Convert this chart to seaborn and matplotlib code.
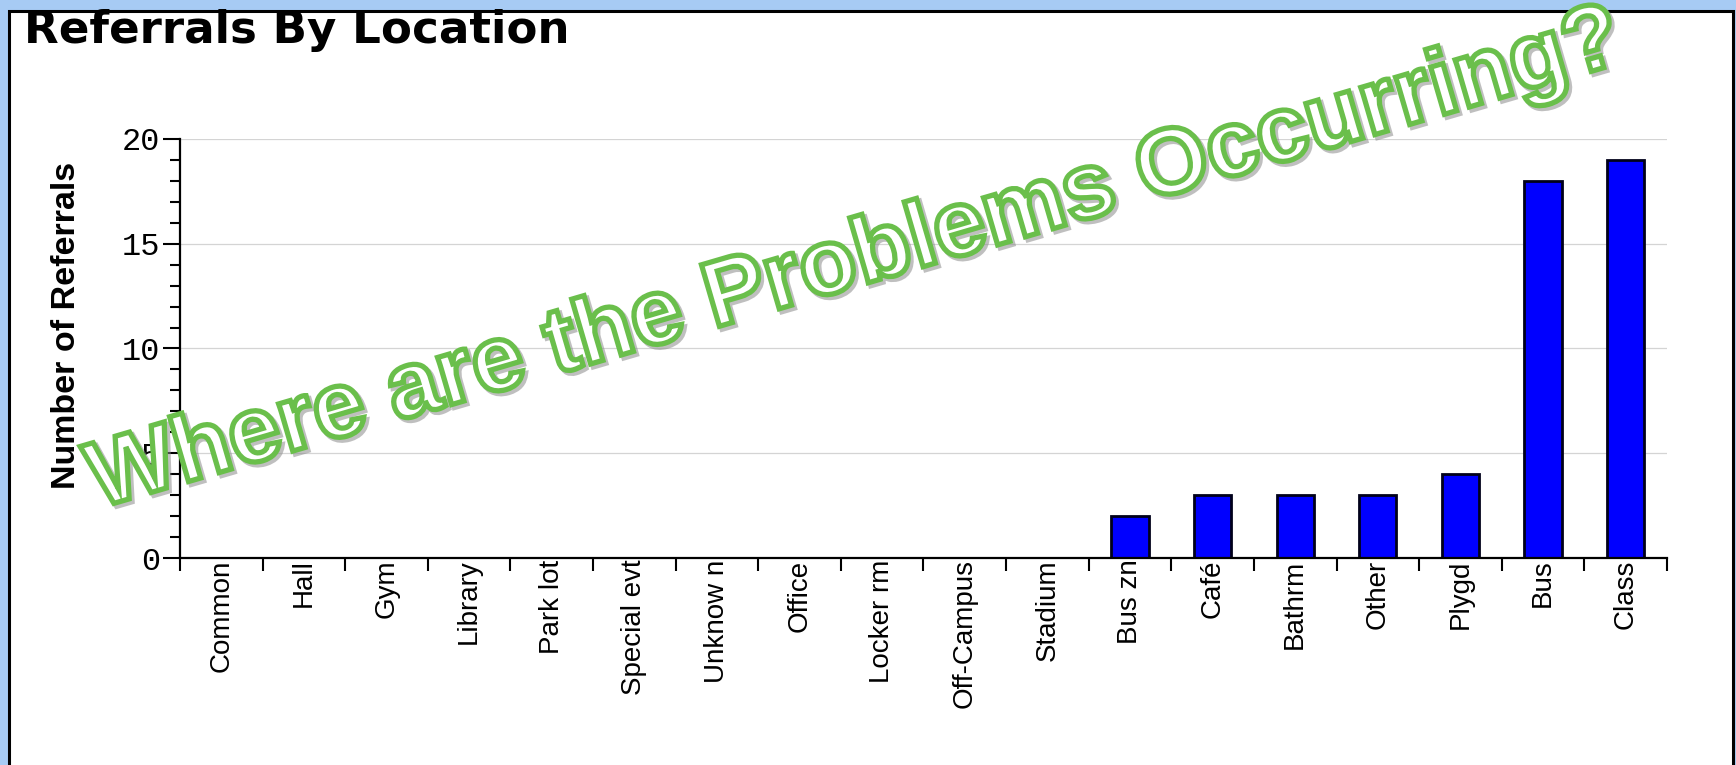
import matplotlib
matplotlib.use("Agg")
import numpy as np
import pandas as pd
import matplotlib.pyplot as plt
import seaborn as sns
from matplotlib import patheffects as pe
from matplotlib.patches import Rectangle
from matplotlib.ticker import FixedLocator, MultipleLocator

# ---- data -------------------------------------------------------------
locations = ["Common", "Hall", "Gym", "Library", "Park lot", "Special evt",
             "Unknow n", "Office", "Locker rm", "Off-Campus", "Stadium",
             "Bus zn", "Café", "Bathrm", "Other", "Plygd", "Bus", "Class"]
referrals = [0, 0, 0, 0, 0, 0, 0, 0, 0, 0, 0, 2, 3, 3, 3, 4, 18, 19]
y_ticks = [0, 5, 10, 15, 20]

chart_title = "Referrals By Location"
y_title = "Number of Referrals"
banner = "Where are the Problems Occurring?"

# ---- style ------------------------------------------------------------
sns.set_style("white")
plt.rcParams["font.family"] = ["Liberation Sans", "DejaVu Sans"]
plt.rcParams["text.color"] = "black"
plt.rcParams["xtick.color"] = "black"
plt.rcParams["ytick.color"] = "black"
plt.rcParams["axes.labelcolor"] = "black"
sans = ["Liberation Sans", "DejaVu Sans"]

W, H = 1736, 765
fig = plt.figure(figsize=(W / 100, H / 100), dpi=100, facecolor="#a7cbf4")

# white panel framed in black on the blue page
fig.patches.append(Rectangle((8.5 / W, -0.05), (1732.5 - 8.5) / W, 1.05 - 11 / H,
                             transform=fig.transFigure, facecolor="white",
                             edgecolor="black", linewidth=2.2, zorder=-5))

ax = fig.add_axes([180 / W, 1 - 558 / H, (1667 - 180) / W, (558 - 139) / H])
ax.set_zorder(1)
ax.set_facecolor("none")

df = pd.DataFrame({"Location": locations, "Referrals": referrals})
sns.barplot(data=df, x="Location", y="Referrals", order=locations,
            color="#0000ff", saturation=1, edgecolor="#00001a",
            linewidth=2.0, width=0.45, ax=ax)

ax.set_xlim(-0.5, len(locations) - 0.5)
ax.set_ylim(0, 20)

# grid and spines
ax.set_axisbelow(True)
ax.yaxis.grid(True, color="#d4d4d4", linewidth=0.9)
ax.xaxis.grid(False)
for side in ("top", "right"):
    ax.spines[side].set_visible(False)
for side in ("left", "bottom"):
    ax.spines[side].set_color("black")
    ax.spines[side].set_linewidth(1.6)

# y ticks: majors every 5, minors every 1
ax.set_yticks(y_ticks)
ax.yaxis.set_minor_locator(MultipleLocator(1))
ax.tick_params(axis="y", which="major", length=12, width=1.5, color="black",
               direction="out", pad=2, labelsize=23, left=True)
ax.tick_params(axis="y", which="minor", length=7, width=1.5, color="black",
               direction="out", left=True)
for lab in ax.get_yticklabels():
    lab.set_fontfamily(["Liberation Mono", "DejaVu Sans Mono"])

# x ticks: labels at bar centres, tick marks on category boundaries
ax.set_xticks(range(len(locations)))
ax.set_xticklabels(locations, rotation=90, ha="center", va="top",
                   fontsize=20, family=sans)
ax.xaxis.set_minor_locator(FixedLocator(np.arange(-0.5, len(locations), 1.0)))
ax.tick_params(axis="x", which="major", length=0, pad=1, bottom=True)
ax.tick_params(axis="x", which="minor", length=9, width=1.5, color="black",
               direction="out", bottom=True)

ax.set_xlabel("")
ax.set_ylabel(y_title, fontsize=24.5, fontweight="bold", family=sans)
ax.yaxis.set_label_coords(-0.066, 0.555)

fig.text(24 / W, 1 - 43 / H, chart_title, ha="left", va="baseline",
         fontsize=32.5, fontweight="bold", family=["DejaVu Sans"], color="black")

# outlined banner across the plot
t = fig.text(98 / W, 1 - 508 / H, banner, rotation=16.3, rotation_mode="anchor",
             ha="left", va="baseline", fontsize=67, fontweight="bold",
             color="white", zorder=10)
t.set_path_effects([
    pe.PathPatchEffect(offset=(2, -2), facecolor="none", edgecolor="#8c8c8c",
                       linewidth=4, alpha=0.55),
    pe.PathPatchEffect(facecolor="white", edgecolor="#6abf4b", linewidth=3.8),
])

fig.savefig("out.png", dpi=100, facecolor=fig.get_facecolor())
